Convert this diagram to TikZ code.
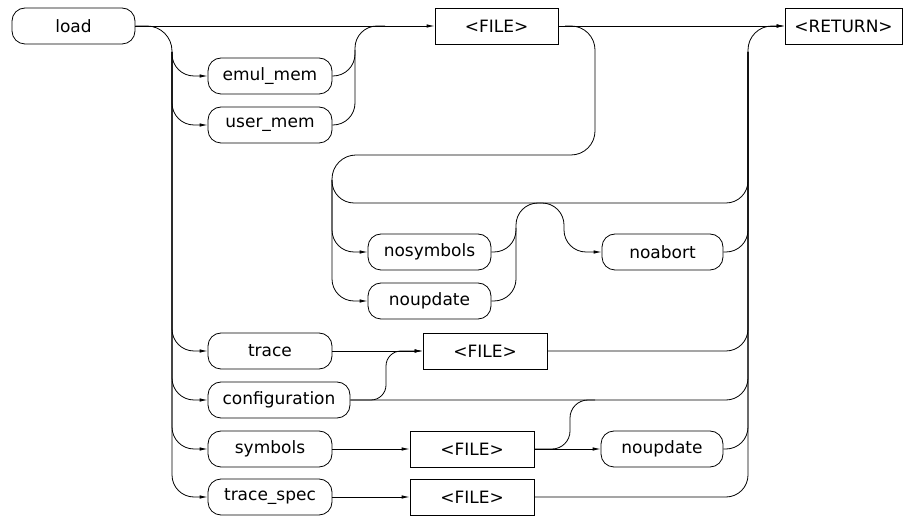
\documentclass[tikz,border=0pt]{standalone}
\usepackage{fontspec}
\setmainfont{DejaVu Sans}
\usetikzlibrary{arrows.meta}
\begin{document}
\begin{tikzpicture}[x=1pt,y=-1pt,line width=0.8pt,
  lbl/.style={font=\fontsize{17}{20}\selectfont},
  term/.style={draw,rounded corners=13pt,minimum height=36pt,inner sep=0pt,lbl},
  ntbox/.style={draw,rectangle,minimum height=36pt,inner sep=0pt,lbl},
  link/.style={rounded corners=22pt},
  tip/.style={-{Latex[length=8pt,width=3.5pt]}}]
\useasboundingbox (0,0) rectangle (903,518);
% nodes
\node[term,minimum width=123pt] (load) at (73.5,26) {load};
\node[ntbox,minimum width=123pt] (file1) at (496.5,26) {<FILE>};
\node[ntbox,minimum width=117pt] (ret) at (843.5,26) {<RETURN>};
\node[term,minimum width=124pt] (emul) at (270,76) {emul\_mem};
\node[term,minimum width=124pt] (user) at (270,125) {user\_mem};
\node[term,minimum width=123pt] (nosym) at (429.5,252) {nosymbols};
\node[term,minimum width=123pt] (noupdA) at (429.5,301) {noupdate};
\node[term,minimum width=121pt] (noabort) at (662.5,252) {noabort};
\node[term,minimum width=124pt] (trace) at (270,351) {trace};
\node[term,minimum width=142pt] (config) at (279,400) {configuration};
\node[term,minimum width=124pt] (symb) at (270,449) {symbols};
\node[term,minimum width=124pt] (tspec) at (270,497) {trace\_spec};
\node[ntbox,minimum width=124pt] (fileB) at (485,351) {<FILE>};
\node[ntbox,minimum width=124pt] (fileC) at (472,449) {<FILE>};
\node[ntbox,minimum width=124pt] (fileD) at (472,497) {<FILE>};
\node[term,minimum width=122pt] (noupdB) at (662,449) {noupdate};
% junction coordinates
\coordinate (Ltop) at (172,52);
\coordinate (Mtop) at (355,50);
\coordinate (Mj) at (385,26);
\coordinate (F1j) at (565,26);
\coordinate (LoopR) at (595,155);
\coordinate (Ptop) at (332,180);
\coordinate (Rtop) at (748,52);
\coordinate (S1) at (748,203);
\coordinate (Vb) at (516,228);
\coordinate (Jn) at (540,203);
\coordinate (Vc) at (564,228);
\coordinate (Cv) at (386,375);
\coordinate (Sv) at (570,425);
\coordinate (Sj) at (595,400);
% main line
\draw[tip] (load.east) -- (file1.west);
\draw[tip] (file1.east) -- (ret.west);
% left bus
\draw[rounded corners=25pt] (load.east) -| (Ltop);
\foreach \n in {emul,user,trace,config,symb,tspec}
  \draw[tip,link] (Ltop) |- (\n.west);
\draw[link] (emul.east) -| (Mtop |- Mj) -- (Mj);
\draw[link] (user.east) -| (Mtop);
% loop after FILE
\draw[rounded corners=24pt] (F1j) -| (LoopR) -| (Ptop);
\draw[link] (Ptop) |- (S1) -- (Rtop);
\draw[tip,link] (Ptop) |- (nosym.west);
\draw[tip,link] (Ptop) |- (noupdA.west);
\draw[link] (nosym.east) -| (Vb);
\draw[link] (noupdA.east) -| (Vb |- Jn) -- (Jn);
\draw[tip,link] (Jn) -| (Vc |- noabort.west) -- (noabort.west);
\draw[link] (noabort.east) -| (Rtop);
% right bus to RETURN
\draw[tip,rounded corners=24pt] (Rtop) |- (ret.west);
% lower options
\draw[tip] (trace.east) -- (fileB.west);
\draw[tip,rounded corners=15pt] (config.east) -| (Cv |- fileB.west) -- (fileB.west);
\draw[link] (config.east) -| (Rtop);
\draw[link] (fileB.east) -| (Rtop);
\draw[tip] (symb.east) -- (fileC.west);
\draw[tip] (fileC.east) -- (noupdB.west);
\draw[rounded corners=18pt] (fileC.east) -| (Sv |- Sj) -- (Sj);
\draw[link] (noupdB.east) -| (Rtop);
\draw[tip] (tspec.east) -- (fileD.west);
\draw[link] (fileD.east) -| (Rtop);
\end{tikzpicture}
\end{document}
